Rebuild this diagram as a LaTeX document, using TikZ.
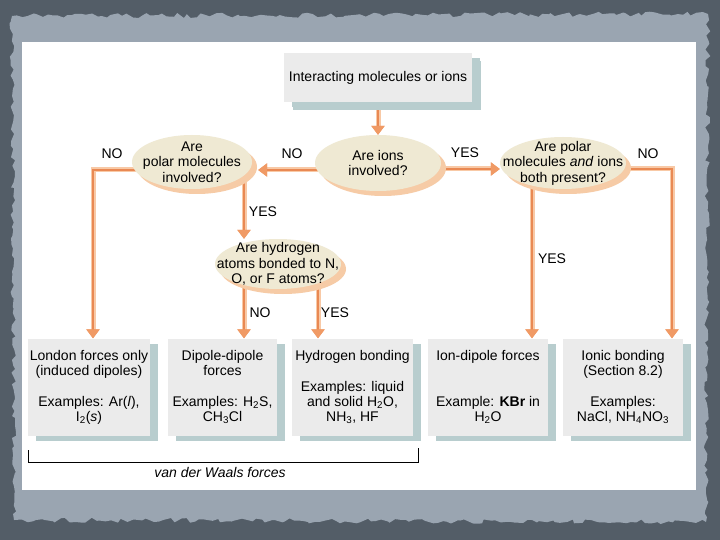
\documentclass[tikz,border=0pt]{standalone}
\usepackage{fontspec}
\setmainfont{Liberation Sans}
\usetikzlibrary{shapes.geometric,shadows,arrows.meta,calc,decorations.pathmorphing}

\definecolor{bgdark}{HTML}{535D67}
\definecolor{paper}{HTML}{9AA5B1}
\definecolor{ellfill}{HTML}{EFE9D3}
\definecolor{ellshad}{HTML}{F6CBA6}
\definecolor{boxfill}{HTML}{EBEBEB}
\definecolor{boxshad}{HTML}{B8CDCE}
\definecolor{peach}{HTML}{F8C9A6}
\definecolor{orangeD}{HTML}{E98953}
\definecolor{orangeH}{HTML}{F09A65}

\pgfdeclarelayer{bg}
\pgfdeclarelayer{conn}
\pgfsetlayers{bg,conn,main}

\begin{document}
\begin{tikzpicture}[x=1pt,y=-1pt,
  question/.style={ellipse, fill=ellfill, inner sep=0pt,
    drop shadow={shadow xshift=5pt, shadow yshift=-5pt, fill=ellshad, opacity=1}},
  qtext/.style={align=center, inner sep=0pt, font=\fontsize{14}{15.5}\selectfont},
  result/.style={rectangle, fill=boxfill, inner sep=0pt, minimum height=97,
    drop shadow={shadow xshift=8pt, shadow yshift=-5pt, fill=boxshad, opacity=1}},
  btext/.style={align=center, inner sep=0pt, anchor=north, font=\fontsize{14}{15}\selectfont},
  lbl/.style={inner sep=0pt, font=\fontsize{14}{16}\selectfont},
  flow/.style={draw=orangeD, line width=1.6pt,
    preaction={draw=peach, line width=5pt},
    -{Triangle[width=13pt,length=9pt,color=orangeH]}},
  bracket/.style={draw=black, line width=1pt}
]
\useasboundingbox (0,0) rectangle (720,540);

% background, paper and white panel
\begin{pgfonlayer}{bg}
  \fill[bgdark] (0,0) rectangle (720,540);
  \pgfmathsetseed{7}
  \fill[paper, decorate, decoration={random steps, segment length=5pt, amplitude=2.5pt}]
    (12,16) -- (708,14) -- (706,522) -- (14,520) -- cycle;
  \fill[white] (22,42) rectangle (696,490);
\end{pgfonlayer}

% top box
\node[result, minimum width=188, minimum height=49,
  drop shadow={shadow xshift=9pt, shadow yshift=-8pt, fill=boxshad, opacity=1},
  font=\fontsize{14}{16}\selectfont] (top) at (378,78) {Interacting molecules or ions};

% question ellipses
\node[question, minimum width=120, minimum height=54] (e1) at (192,162) {};
\node[qtext] (e1t) at (e1) {Are\\polar molecules\\involved?};
\node[question, minimum width=126, minimum height=56] (e2) at (378,163) {};
\node[qtext] (e2t) at (e2) {Are ions\\involved?};
\node[question, minimum width=126, minimum height=52] (e3) at (563,163) {};
\node[qtext] (e3t) at (e3) {Are polar\\molecules \textit{and} ions\\both present?};
\node[question, minimum width=126, minimum height=50] (e4) at (278,264) {};
\node[qtext] (e4t) at (e4) {Are hydrogen\\atoms bonded to N,\\O, or F atoms?};

% result boxes
\node[result, minimum width=122] (lon) at (89,387) {};
\node[btext] (lont) at ($(lon.north)+(0,12)$) {London forces only\\(induced dipoles)\\[16pt]Examples: Ar(\textit{l}),\\I\textsubscript{2}(\textit{s})};
\node[result, minimum width=109] (dip) at (222.5,387) {};
\node[btext] (dipt) at ($(dip.north)+(0,12)$) {Dipole-dipole\\forces\\[16pt]Examples: H\textsubscript{2}S,\\CH\textsubscript{3}Cl};
\node[result, minimum width=121] (hyd) at (352.5,387) {};
\node[btext] (hydt) at ($(hyd.north)+(0,12)$) {Hydrogen bonding\\[16pt]Examples: liquid\\and solid H\textsubscript{2}O,\\NH\textsubscript{3}, HF};
\node[result, minimum width=120] (iond) at (488,387) {};
\node[btext] (iondt) at ($(iond.north)+(0,12)$) {Ion-dipole forces\\[31pt]Example: \textbf{KBr} in\\H\textsubscript{2}O};
\node[result, minimum width=120] (ionic) at (623,387) {};
\node[btext] (ionict) at ($(ionic.north)+(0,12)$) {Ionic bonding\\(Section 8.2)\\[16pt]Examples:\\NaCl, NH\textsubscript{4}NO\textsubscript{3}};

% connectors
\begin{pgfonlayer}{conn}
  \draw[flow] (top.south) -- (e2.north);
  \draw[flow] (e2.center |- 0,170) -- ($(e1.east |- 0,170)+(6,0)$);
  \draw[flow] (e2.center |- 0,169) -- (e3.west |- 0,169);
  \draw[flow] (e1.center |- 0,170) -| ($(lon.north)+(4,0)$);
  \draw[flow] (e1.center -| 244,0) -- (e4.north -| 244,0);
  \draw[flow] (e4.center -| 244,0) -- (dip.north -| 244,0);
  \draw[flow] (e4.center -| 318,0) -- (hyd.north -| 318,0);
  \draw[flow] (e3.center -| 532,0) -- (iond.north -| 532,0);
  \draw[flow] (e3.center |- 0,169) -| (ionic.north -| 672,0);
\end{pgfonlayer}

% connector labels
\node[lbl] (l1) at (112,154) {NO};
\node[lbl] (l2) at (292,154) {NO};
\node[lbl] (l3) at (465,153) {YES};
\node[lbl] (l4) at (648,154) {NO};
\node[lbl] (l5) at (263,212) {YES};
\node[lbl] (l6) at (552,259) {YES};
\node[lbl] (l7) at (260,313) {NO};
\node[lbl] (l8) at (335,313) {YES};

% van der Waals bracket
\coordinate (bl) at (28,450);
\coordinate (br) at (418,448);
\draw[bracket] (bl) -- (bl |- 0,462) -- (br |- 0,462) -- (br);
\node[lbl, font=\fontsize{14}{16}\selectfont\itshape] (vdw) at (220,472) {van der Waals forces};
\end{tikzpicture}
\end{document}
